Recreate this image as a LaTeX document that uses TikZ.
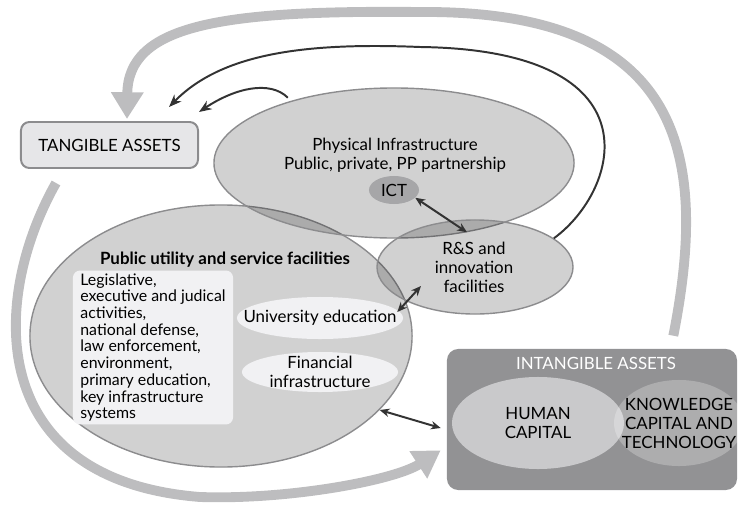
\documentclass[tikz,border=0pt]{standalone}
\usepackage{fontspec}
\setmainfont{Lato}
\usetikzlibrary{arrows.meta,shapes.geometric}

\definecolor{loopgray}{HTML}{BDBDBF}
\definecolor{rimgray}{HTML}{8C8C8E}
\definecolor{inkgray}{HTML}{333333}
\definecolor{boxgray}{HTML}{E6E6E8}
\definecolor{paper}{HTML}{F1F1F3}
\definecolor{ictgray}{HTML}{A6A6A8}
\definecolor{panelgray}{HTML}{929294}
\definecolor{humangray}{HTML}{C9C9CB}

\begin{document}
\begin{tikzpicture}[x=0.025cm,y=-0.025cm,>=Stealth,
    every node/.style={font=\fontsize{12}{13.5}\selectfont},
    blob/.style={ellipse,draw=rimgray,line width=1pt,fill=black,fill opacity=0.18,inner sep=0pt},
    spot/.style={ellipse,fill=paper,inner sep=0pt},
    bigloop/.style={draw=loopgray,line width=7pt,-{Triangle[width=22pt,length=19pt]}},
    thin/.style={draw=inkgray,line width=1.4pt,-{Stealth[length=9pt,width=7pt]}},
    twoway/.style={draw=inkgray,line width=1.4pt,{Stealth[length=7pt,width=6pt]}-{Stealth[length=7pt,width=6pt]}}]
  \useasboundingbox (0,0) rectangle (738,507);

  % assets on both sides
  \node[draw=rimgray,line width=1.4pt,fill=boxgray,rounded corners=6pt,minimum width=4.425cm,minimum height=1.15cm] (tangible) at (109.5,145) {TANGIBLE ASSETS};
  \node[fill=panelgray,rounded corners=8pt,minimum width=7.25cm,minimum height=3.525cm] (intangible) at (592,419.5) {};
  \node[text=white] (intangibletitle) at (596,363) {INTANGIBLE ASSETS};
  \node[ellipse,fill=humangray,minimum width=4.3cm,minimum height=2.3cm,inner sep=0pt,align=center] (human) at (538,423) {HUMAN\\CAPITAL};
  \node[ellipse,fill=white,fill opacity=0.25,minimum width=3.25cm,minimum height=2.15cm,inner sep=0pt] (knowledge) at (679,423) {};
  \node[align=center] (knowledgetext) at (679,423) {KNOWLEDGE\\CAPITAL AND\\TECHNOLOGY};

  % the three overlapping fields
  \node[blob,minimum width=9.55cm,minimum height=6.55cm] (public) at (221,336) {};
  \node[blob,minimum width=9cm,minimum height=3.75cm] (physical) at (394,163) {};
  \node[blob,minimum width=4.9cm,minimum height=2.35cm] (rs) at (475,267) {};
  \node[align=center] (rstext) at (474,267) {R\&S and\\innovation\\facilities};
  \node[ellipse,fill=ictgray,minimum width=1.25cm,minimum height=0.7cm,inner sep=0pt] (ict) at (394,190) {ICT};
  \node[align=center] (physicaltitle) at (395,155) {Physical Infrastructure\\Public, private, PP partnership};
  \node[font=\fontsize{12}{13.5}\selectfont\bfseries] (publictitle) at (225,260) {Public utility and service facilities};

  % inside the public field
  \node[fill=paper,rounded corners=5pt,minimum width=4cm,minimum height=3.775cm,inner sep=2pt,align=left,font=\fontsize{11.3}{11.9}\selectfont] (duties) at (153,347.5)
    {Legislative,\\executive and judical\\activities,\\national defense,\\law enforcement,\\environment,\\primary education,\\key infrastructure\\systems};
  \node[spot,minimum width=4.15cm,minimum height=1.05cm] (univ) at (320,318) {};
  \node (univtext) at (320,318) {University education};
  \node[spot,minimum width=3.9cm,minimum height=1cm] (finance) at (320,372) {};
  \node[align=center] (financetext) at (320,372) {Financial\\infrastructure};

  % wide gray loops
  \draw[bigloop] ([shift={(-64,-13)}]intangible.north east) .. controls (710,150) and (680,10) .. (420,12)
    .. controls (220,10) and (128,25) .. ([shift={(17.5,-2)}]tangible.north);
  \draw[bigloop] ([shift={(36,14)}]tangible.south west) .. controls (-10,300) and (-15,480) .. (200,497)
    .. controls (290,500) and (395,480) .. ([shift={(-6,-40)}]intangible.south west);

  % feedback to tangible assets
  \draw[thin] (rs.20) .. controls (620,190) and (660,50) .. (420,47)
    .. controls (300,42) and (220,55) .. ([shift={(-30,-14)}]tangible.north east);
  \draw[thin] ([shift={(0,-4)}]physical.150) .. controls (270,80) and (235,88) .. ([shift={(0,-9)}]tangible.north east);

  % links between the fields
  \draw[twoway] (ict.-20) -- ([shift={(-8,13)}]rs.north);
  \draw[twoway] ([shift={(-6,-6)}]univ.east) -- ([shift={(-54,19)}]rs.center);
  \draw[twoway] (public.-25) -- ([shift={(-6,8.5)}]intangible.west);
\end{tikzpicture}
\end{document}
